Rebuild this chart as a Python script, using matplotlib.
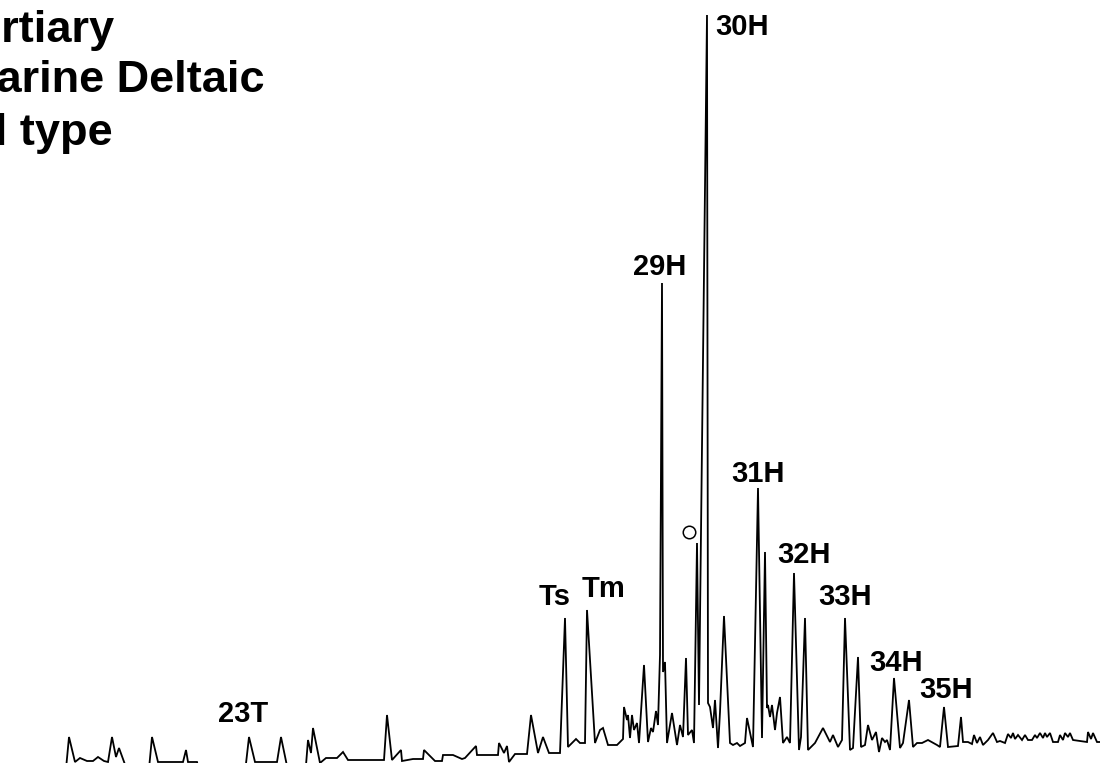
import matplotlib
matplotlib.use("Agg")
import matplotlib.pyplot as plt

plt.rcParams["font.family"] = ["Liberation Sans", "DejaVu Sans"]

# Chromatogram trace (m/z 191): retention position and detector response
retention = [
    0, 64, 69, 75, 80, 87, 93, 98, 104, 108, 112, 116, 119, 127, 140, 147, 152, 158,
    183, 186, 188, 197, 200, 215, 243, 249, 255, 277, 281, 287, 295, 304, 308, 311,
    313, 320, 326, 337, 343, 348, 384, 387, 392, 401, 402, 413, 423, 424, 435, 442,
    443, 453, 462, 465, 476, 477, 498, 499, 504, 507, 509, 515, 527, 531, 538, 543,
    549, 560, 565, 568, 576, 580, 585, 587, 595, 600, 603, 608, 617, 623, 624, 627,
    628, 630, 632, 634, 637, 639, 644, 648, 651, 653, 656, 658, 660, 662, 663, 665,
    667, 672, 677, 680, 683, 686, 688, 692, 694, 697, 699, 707, 708, 710, 713, 715,
    718, 720, 724, 730, 733, 737, 740, 745, 747, 753, 758, 762, 765, 767, 768, 770,
    772, 775, 777, 780, 783, 787, 790, 794, 799, 801, 805, 808, 815, 823, 830, 833,
    838, 842, 845, 850, 853, 858, 861, 865, 868, 872, 876, 879, 882, 885, 887, 890,
    894, 900, 903, 909, 913, 917, 922, 928, 937, 940, 944, 948, 958, 961, 963, 968,
    972, 974, 977, 980, 983, 988, 993, 997, 1000, 1005, 1008, 1011, 1013, 1015, 1018,
    1022, 1025, 1028, 1032, 1035, 1037, 1040, 1043, 1045, 1047, 1050, 1053, 1058,
    1060, 1063, 1065, 1068, 1070, 1073, 1087, 1088, 1091, 1093, 1097, 1100,
]
response = [
    -27, -27, 26, 1, 5, 2, 2, 6, 2, 1, 26, 6, 15, -7, -27, -27, 26, 1,
    1, 13, 1, 1, -12, -27, -27, 26, 1, 1, 26, -3, -27, -27, 23, 10,
    35, 0, 5, 5, 11, 3, 3, 48, 3, 13, 2, 4, 4, 13, 2, 2,
    8, 8, 4, 5, 17, 8, 8, 20, 10, 17, 1, 9, 9, 48, 10, 26,
    10, 10, 145, 16, 24, 20, 20, 153, 20, 33, 35, 18, 18, 24, 56, 43,
    48, 25, 48, 33, 40, 20, 98, 21, 35, 31, 52, 38, 108, 480, 91, 101,
    20, 50, 18, 38, 26, 105, 28, 33, 20, 220, 58, 748, 60, 56, 35, 63,
    15, 51, 147, 20, 18, 20, 17, 20, 45, 16, 275, 25, 211, 55, 58, 46,
    58, 33, 50, 66, 20, 26, 20, 190, 13, 26, 145, 13, 20, 35, 21, 28,
    16, 23, 145, 13, 15, 106, 16, 18, 38, 23, 31, 11, 25, 21, 23, 13,
    85, 15, 20, 63, 16, 20, 20, 23, 18, 16, 56, 16, 17, 46, 21, 21,
    19, 28, 20, 26, 18, 23, 30, 21, 22, 20, 29, 25, 30, 24, 28,
    23, 28, 23, 23, 28, 25, 30, 25, 30, 26, 30, 21, 21,
    28, 23, 30, 26, 30, 23, 21, 31, 24, 30, 21, 21,
]

# Peak labels and their anchor positions (left edge, baseline)
peak_labels = ["23T", "Ts", "Tm", "29H", "30H", "31H", "32H", "33H", "34H", "35H"]
label_x = [218, 539, 582, 633, 715, 731, 777, 818, 869, 919]
label_y = [41, 158, 166, 488, 728, 281, 200, 158, 92, 65]

# Unlabelled compound marker
marker_x = [689]
marker_y = [231]

title_lines = ["Tertiary", "Marine Deltaic", "Oil type"]
title_right = [115, 265, 113]
title_base = [721, 671, 618]

fig = plt.figure(figsize=(11, 7.63), dpi=100)
ax = fig.add_axes([0, 0, 1, 1])
ax.set_xlim(0, 1100)
ax.set_ylim(0, 763)
ax.axis("off")

ax.plot(retention, response, color="black", lw=1.3, solid_joinstyle="miter")
ax.plot(marker_x, marker_y, "o", ms=9, mfc="white", mec="black", mew=1.1)

for lab, x, y in zip(peak_labels, label_x, label_y):
    ax.text(x, y, lab, ha="left", va="baseline", fontsize=21, fontweight="bold")

for line, x, y in zip(title_lines, title_right, title_base):
    ax.text(x, y, line, ha="right", va="baseline", fontsize=32.5, fontweight="bold")

fig.savefig("out.png", dpi=100)
